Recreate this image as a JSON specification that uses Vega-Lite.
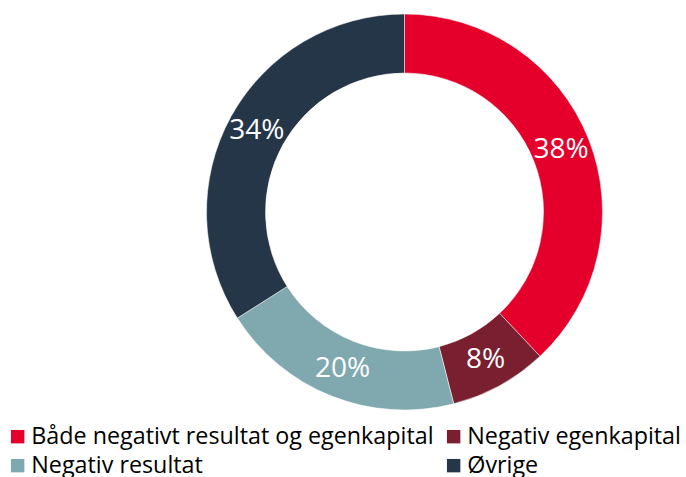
{
  "$schema": "https://vega.github.io/schema/vega-lite/v6.json",
  "width": 563,
  "height": 424,
  "autosize": {"type": "none"},
  "padding": {"left": 123, "top": 0, "right": 0, "bottom": 53},
  "background": "white",
  "config": {"view": {"stroke": null}},
  "data": {
    "values": [
      {"kategori": "Både negativt resultat og egenkapital", "andel": 0.38, "rank": 1},
      {"kategori": "Negativ egenkapital", "andel": 0.08, "rank": 2},
      {"kategori": "Negativ resultat", "andel": 0.20, "rank": 3},
      {"kategori": "Øvrige", "andel": 0.34, "rank": 4}
    ]
  },
  "encoding": {
    "theta": {"field": "andel", "type": "quantitative", "stack": true},
    "order": {"field": "rank", "type": "quantitative"},
    "color": {
      "field": "kategori",
      "type": "nominal",
      "scale": {
        "domain": ["Både negativt resultat og egenkapital", "Negativ egenkapital", "Negativ resultat", "Øvrige"],
        "range": ["#E4002B", "#7A1F2F", "#80A9AF", "#253648"]
      },
      "legend": {
        "title": null,
        "orient": "none",
        "direction": "horizontal",
        "columns": 2,
        "legendX": -117,
        "legendY": 425,
        "padding": 0,
        "symbolType": "square",
        "symbolSize": 180,
        "symbolStrokeWidth": 0,
        "symbolOpacity": 1,
        "labelFont": "Open Sans",
        "labelFontSize": 23.3,
        "labelColor": "#000000",
        "labelOffset": 2,
        "labelLimit": 0,
        "columnPadding": 8,
        "rowPadding": 5
      }
    }
  },
  "layer": [
    {
      "mark": {"type": "arc", "outerRadius": 198, "innerRadius": 139, "stroke": "white", "strokeWidth": 0.5}
    },
    {
      "mark": {"type": "text", "radius": 168.5, "font": "Open Sans", "fontSize": 28, "fill": "white", "align": "center", "baseline": "middle"},
      "encoding": {
        "text": {"field": "andel", "type": "quantitative", "format": ".0%"},
        "color": {"value": "white"}
      }
    }
  ]
}
